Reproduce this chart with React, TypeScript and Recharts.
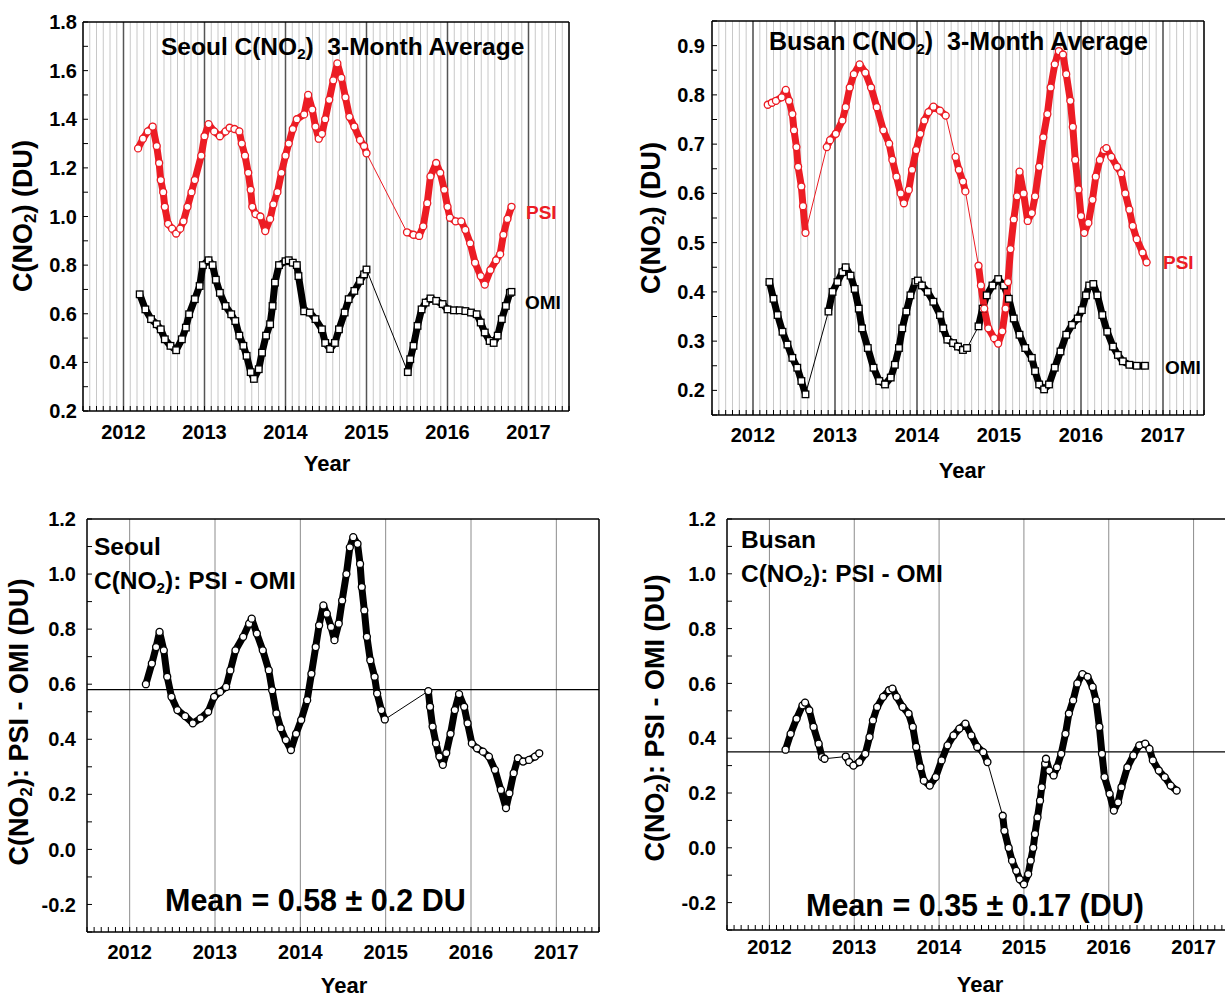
import React from "react";
import { LineChart, Line, XAxis, YAxis, CartesianGrid, ReferenceLine } from "recharts";

const FONT = '"Liberation Sans", Arial, Helvetica, sans-serif';
const RED = "#ec1c24";
const BLACK = "#000";

// ---- axis ticks ----
const yearTicks = [2012, 2013, 2014, 2015, 2016, 2017];
const monthTicks = Array.from({ length: 73 }, (_, i) => 2011.5 + i / 12);
const seoulTicks = [0.2, 0.3, 0.4, 0.5, 0.6, 0.7, 0.8, 0.9, 1.0, 1.1, 1.2, 1.3, 1.4, 1.5, 1.6, 1.7, 1.8];
const seoulLabels = [0.2, 0.4, 0.6, 0.8, 1.0, 1.2, 1.4, 1.6, 1.8];
const busanTicks = [0.15, 0.2, 0.25, 0.3, 0.35, 0.4, 0.45, 0.5, 0.55, 0.6, 0.65, 0.7, 0.75, 0.8, 0.85, 0.9, 0.95];
const busanLabels = [0.2, 0.3, 0.4, 0.5, 0.6, 0.7, 0.8, 0.9];
const diffTicks = [-0.3, -0.2, -0.1, 0.0, 0.1, 0.2, 0.3, 0.4, 0.5, 0.6, 0.7, 0.8, 0.9, 1.0, 1.1, 1.2];
const diffLabels = [-0.2, 0.0, 0.2, 0.4, 0.6, 0.8, 1.0, 1.2];

// ---- Seoul 3-month average ----
const seoulPsiYears = [2012.18, 2012.24, 2012.3, 2012.36, 2012.41, 2012.44, 2012.46, 2012.49, 2012.51, 2012.55, 2012.6, 2012.65, 2012.7, 2012.74, 2012.79, 2012.84, 2012.88, 2012.96, 2013.0, 2013.05, 2013.12, 2013.19, 2013.26, 2013.31, 2013.37, 2013.43, 2013.46, 2013.5, 2013.54, 2013.57, 2013.59, 2013.63, 2013.69, 2013.75, 2013.81, 2013.85, 2013.9, 2013.95, 2014.0, 2014.04, 2014.09, 2014.14, 2014.23, 2014.28, 2014.33, 2014.37, 2014.41, 2014.45, 2014.49, 2014.54, 2014.59, 2014.64, 2014.69, 2014.74, 2014.79, 2014.85, 2014.92, 2014.97, 2015.0, 2015.5, 2015.58, 2015.65, 2015.7, 2015.75, 2015.79, 2015.86, 2015.91, 2015.96, 2016.0, 2016.03, 2016.1, 2016.17, 2016.22, 2016.28, 2016.34, 2016.41, 2016.46, 2016.53, 2016.6, 2016.65, 2016.69, 2016.74, 2016.79];
const seoulPsiValues = [1.28, 1.32, 1.35, 1.37, 1.29, 1.22, 1.15, 1.1, 1.04, 0.97, 0.95, 0.93, 0.95, 0.98, 1.04, 1.1, 1.15, 1.25, 1.33, 1.38, 1.35, 1.33, 1.35, 1.365, 1.36, 1.35, 1.3, 1.25, 1.18, 1.11, 1.04, 1.01, 1.0, 0.94, 0.99, 1.05, 1.1, 1.18, 1.25, 1.3, 1.36, 1.4, 1.42, 1.5, 1.44, 1.37, 1.32, 1.34, 1.4, 1.48, 1.56, 1.63, 1.57, 1.49, 1.41, 1.37, 1.315, 1.29, 1.26, 0.935, 0.925, 0.92, 0.96, 1.055, 1.165, 1.22, 1.18, 1.11, 1.04, 0.995, 0.98, 0.98, 0.945, 0.89, 0.81, 0.755, 0.72, 0.78, 0.82, 0.845, 0.925, 0.99, 1.04];
const seoulOmiYears = [2012.2, 2012.27, 2012.34, 2012.41, 2012.46, 2012.51, 2012.58, 2012.65, 2012.72, 2012.77, 2012.81, 2012.88, 2012.94, 2012.98, 2013.05, 2013.1, 2013.14, 2013.19, 2013.26, 2013.33, 2013.38, 2013.43, 2013.48, 2013.52, 2013.57, 2013.61, 2013.67, 2013.71, 2013.76, 2013.81, 2013.84, 2013.87, 2013.92, 2014.0, 2014.04, 2014.09, 2014.14, 2014.16, 2014.23, 2014.3, 2014.37, 2014.45, 2014.49, 2014.55, 2014.61, 2014.66, 2014.73, 2014.78, 2014.85, 2014.92, 2014.97, 2015.0, 2015.51, 2015.54, 2015.58, 2015.63, 2015.68, 2015.73, 2015.79, 2015.86, 2015.94, 2016.0, 2016.08, 2016.15, 2016.22, 2016.29, 2016.36, 2016.41, 2016.46, 2016.52, 2016.57, 2016.62, 2016.67, 2016.72, 2016.77, 2016.79];
const seoulOmiValues = [0.68, 0.618, 0.578, 0.557, 0.536, 0.495, 0.468, 0.45, 0.495, 0.543, 0.598, 0.66, 0.714, 0.8, 0.82, 0.8, 0.74, 0.686, 0.632, 0.598, 0.57, 0.51, 0.468, 0.427, 0.36, 0.332, 0.372, 0.44, 0.51, 0.557, 0.632, 0.728, 0.8, 0.816, 0.82, 0.81, 0.8, 0.755, 0.61, 0.605, 0.578, 0.536, 0.48, 0.455, 0.48, 0.536, 0.605, 0.66, 0.694, 0.735, 0.762, 0.782, 0.36, 0.413, 0.468, 0.55, 0.618, 0.646, 0.663, 0.653, 0.64, 0.618, 0.614, 0.614, 0.611, 0.605, 0.598, 0.564, 0.523, 0.488, 0.48, 0.51, 0.578, 0.632, 0.686, 0.69];

// ---- Busan 3-month average ----
const busanPsiYears = [2012.18, 2012.23, 2012.28, 2012.35, 2012.4, 2012.44, 2012.48, 2012.5, 2012.53, 2012.55, 2012.59, 2012.61, 2012.64, 2012.9, 2012.94, 2013.01, 2013.09, 2013.13, 2013.18, 2013.23, 2013.3, 2013.37, 2013.44, 2013.51, 2013.59, 2013.66, 2013.7, 2013.75, 2013.8, 2013.84, 2013.9, 2013.94, 2013.99, 2014.04, 2014.09, 2014.14, 2014.2, 2014.28, 2014.35, 2014.47, 2014.51, 2014.56, 2014.59, 2014.75, 2014.78, 2014.82, 2014.87, 2014.94, 2014.99, 2015.04, 2015.08, 2015.11, 2015.14, 2015.18, 2015.22, 2015.25, 2015.3, 2015.35, 2015.4, 2015.44, 2015.49, 2015.54, 2015.59, 2015.63, 2015.68, 2015.73, 2015.78, 2015.82, 2015.87, 2015.9, 2015.93, 2015.97, 2016.0, 2016.04, 2016.09, 2016.14, 2016.18, 2016.23, 2016.28, 2016.31, 2016.37, 2016.44, 2016.49, 2016.54, 2016.59, 2016.63, 2016.68, 2016.75, 2016.8];
const busanPsiValues = [0.78, 0.784, 0.788, 0.795, 0.81, 0.788, 0.761, 0.728, 0.694, 0.654, 0.614, 0.574, 0.52, 0.694, 0.708, 0.721, 0.748, 0.775, 0.815, 0.842, 0.862, 0.845, 0.815, 0.775, 0.728, 0.701, 0.668, 0.634, 0.6, 0.58, 0.607, 0.648, 0.688, 0.721, 0.748, 0.765, 0.776, 0.768, 0.758, 0.674, 0.648, 0.624, 0.604, 0.453, 0.413, 0.366, 0.326, 0.306, 0.295, 0.32, 0.366, 0.42, 0.487, 0.547, 0.594, 0.644, 0.6, 0.544, 0.56, 0.594, 0.654, 0.714, 0.761, 0.815, 0.862, 0.889, 0.882, 0.842, 0.788, 0.735, 0.668, 0.608, 0.554, 0.52, 0.54, 0.587, 0.634, 0.668, 0.688, 0.692, 0.674, 0.654, 0.641, 0.6, 0.567, 0.534, 0.507, 0.48, 0.46];
const busanOmiYears = [2012.2, 2012.25, 2012.3, 2012.36, 2012.42, 2012.48, 2012.54, 2012.59, 2012.64, 2012.92, 2012.97, 2013.03, 2013.09, 2013.13, 2013.19, 2013.24, 2013.29, 2013.33, 2013.4, 2013.47, 2013.54, 2013.61, 2013.68, 2013.73, 2013.78, 2013.82, 2013.87, 2013.92, 2013.98, 2014.01, 2014.06, 2014.13, 2014.2, 2014.28, 2014.32, 2014.37, 2014.44, 2014.5, 2014.56, 2014.61, 2014.75, 2014.8, 2014.85, 2014.92, 2014.99, 2015.06, 2015.12, 2015.18, 2015.25, 2015.32, 2015.4, 2015.44, 2015.49, 2015.55, 2015.61, 2015.68, 2015.75, 2015.82, 2015.89, 2015.96, 2016.01, 2016.06, 2016.1, 2016.15, 2016.2, 2016.26, 2016.32, 2016.39, 2016.45, 2016.51, 2016.59, 2016.68, 2016.78];
const busanOmiValues = [0.42, 0.386, 0.353, 0.319, 0.293, 0.266, 0.246, 0.219, 0.192, 0.36, 0.4, 0.42, 0.44, 0.45, 0.433, 0.406, 0.366, 0.326, 0.286, 0.246, 0.219, 0.212, 0.226, 0.252, 0.286, 0.326, 0.36, 0.393, 0.42, 0.423, 0.413, 0.4, 0.38, 0.353, 0.326, 0.303, 0.296, 0.289, 0.282, 0.286, 0.33, 0.366, 0.393, 0.413, 0.426, 0.413, 0.386, 0.346, 0.313, 0.286, 0.266, 0.239, 0.212, 0.202, 0.212, 0.246, 0.279, 0.313, 0.333, 0.346, 0.363, 0.393, 0.413, 0.416, 0.393, 0.353, 0.319, 0.289, 0.272, 0.259, 0.252, 0.25, 0.25];

// ---- PSI - OMI differences ----
const seoulDiffYears = [2012.19, 2012.26, 2012.31, 2012.35, 2012.4, 2012.44, 2012.49, 2012.56, 2012.65, 2012.74, 2012.83, 2012.92, 2012.99, 2013.06, 2013.13, 2013.18, 2013.24, 2013.33, 2013.4, 2013.43, 2013.49, 2013.56, 2013.63, 2013.67, 2013.72, 2013.77, 2013.83, 2013.89, 2013.95, 2014.01, 2014.08, 2014.13, 2014.18, 2014.22, 2014.27, 2014.31, 2014.36, 2014.4, 2014.45, 2014.49, 2014.54, 2014.58, 2014.62, 2014.67, 2014.7, 2014.72, 2014.75, 2014.78, 2014.82, 2014.87, 2014.9, 2014.95, 2014.99, 2015.5, 2015.52, 2015.55, 2015.59, 2015.63, 2015.67, 2015.71, 2015.76, 2015.81, 2015.86, 2015.92, 2015.96, 2016.01, 2016.07, 2016.14, 2016.21, 2016.28, 2016.35, 2016.41, 2016.45, 2016.5, 2016.55, 2016.61, 2016.68, 2016.75, 2016.8];
const seoulDiffValues = [0.6, 0.675, 0.735, 0.79, 0.723, 0.627, 0.554, 0.506, 0.484, 0.458, 0.476, 0.5, 0.554, 0.572, 0.59, 0.65, 0.723, 0.772, 0.82, 0.838, 0.784, 0.723, 0.651, 0.578, 0.494, 0.44, 0.397, 0.361, 0.42, 0.47, 0.542, 0.638, 0.735, 0.814, 0.886, 0.856, 0.808, 0.76, 0.82, 0.904, 1.0, 1.097, 1.134, 1.11, 1.037, 0.953, 0.868, 0.772, 0.687, 0.627, 0.566, 0.506, 0.472, 0.575, 0.518, 0.446, 0.385, 0.337, 0.307, 0.35, 0.42, 0.506, 0.564, 0.518, 0.458, 0.385, 0.367, 0.355, 0.337, 0.289, 0.216, 0.15, 0.204, 0.277, 0.331, 0.319, 0.325, 0.337, 0.349];
const busanDiffYears = [2012.19, 2012.25, 2012.32, 2012.39, 2012.42, 2012.47, 2012.52, 2012.58, 2012.62, 2012.65, 2012.9, 2012.94, 2012.99, 2013.06, 2013.13, 2013.18, 2013.22, 2013.27, 2013.34, 2013.41, 2013.45, 2013.5, 2013.57, 2013.64, 2013.69, 2013.73, 2013.78, 2013.82, 2013.89, 2013.96, 2014.03, 2014.1, 2014.17, 2014.24, 2014.31, 2014.38, 2014.45, 2014.52, 2014.57, 2014.75, 2014.77, 2014.82, 2014.86, 2014.91, 2014.95, 2015.0, 2015.05, 2015.08, 2015.11, 2015.13, 2015.16, 2015.19, 2015.21, 2015.25, 2015.26, 2015.3, 2015.35, 2015.39, 2015.44, 2015.49, 2015.53, 2015.58, 2015.63, 2015.69, 2015.75, 2015.81, 2015.85, 2015.89, 2015.92, 2015.95, 2016.01, 2016.06, 2016.11, 2016.15, 2016.22, 2016.29, 2016.36, 2016.43, 2016.48, 2016.52, 2016.59, 2016.66, 2016.73, 2016.8];
const busanDiffValues = [0.358, 0.416, 0.471, 0.52, 0.53, 0.502, 0.441, 0.38, 0.331, 0.325, 0.333, 0.313, 0.3, 0.313, 0.343, 0.404, 0.465, 0.514, 0.551, 0.575, 0.581, 0.551, 0.514, 0.49, 0.441, 0.368, 0.294, 0.245, 0.227, 0.258, 0.319, 0.374, 0.41, 0.435, 0.453, 0.41, 0.368, 0.349, 0.313, 0.117, 0.062, 0.0, -0.047, -0.084, -0.115, -0.133, -0.096, -0.047, 0.0, 0.05, 0.111, 0.172, 0.221, 0.307, 0.325, 0.282, 0.264, 0.294, 0.343, 0.416, 0.49, 0.538, 0.6, 0.634, 0.624, 0.587, 0.538, 0.441, 0.343, 0.258, 0.197, 0.136, 0.166, 0.221, 0.294, 0.337, 0.374, 0.38, 0.361, 0.319, 0.282, 0.258, 0.227, 0.209];

const seoulMean = 0.58;
const busanMean = 0.35;

type Pt = { x: number; y: number | null };
type Series = { name: string; data: Pt[]; color: string; shape: "circle" | "square" };

const zip = (xs: number[], ys: number[]): Pt[] => xs.map((x, i) => ({ x, y: ys[i] }));

// break the heavy band wherever the samples are far apart (thin connector only)
const denseRuns = (pts: Pt[], gap = 0.1): Pt[] => {
  const out: Pt[] = [];
  pts.forEach((p, i) => {
    out.push(p);
    const n = pts[i + 1];
    if (n && n.x - p.x > gap) out.push({ x: (p.x + n.x) / 2, y: null });
  });
  return out;
};

const near = (list: number[], v: number) => list.some((l) => Math.abs(l - v) < 1e-6);
const yearFmt = (v: number) => (Math.abs(v - Math.round(v)) < 1e-6 ? String(Math.round(v)) : "");

const makeDot = (color: string, shape: string) => (props: any) => {
  const { cx, cy, index } = props;
  if (cx == null || cy == null) return <g key={`e${index}`} />;
  if (shape === "square")
    return <rect key={`s${index}`} x={cx - 3.3} y={cy - 3.3} width={6.6} height={6.6} fill="#fff" stroke={color} strokeWidth={1.3} />;
  return <circle key={`c${index}`} cx={cx} cy={cy} r={3.5} fill="#fff" stroke={color} strokeWidth={1.3} />;
};

const tickStyle = { fontSize: 20, fontWeight: "bold", fill: "#000", fontFamily: FONT };

type PanelProps = {
  left: number; top: number; width: number; height: number;
  mTop: number; mRight: number; yWidth: number; xHeight: number;
  yDomain: [number, number]; yTicks: number[]; yLabels: number[];
  xTickMargin: number; yTickMargin: number;
  monthGrid: boolean; series: Series[]; mean?: number;
};

function Panel(p: PanelProps) {
  const xDomain: [number, number] = [2011.5, 2017.5];
  return (
    <div style={{ position: "absolute", left: p.left, top: p.top }}>
      <LineChart width={p.width} height={p.height} margin={{ top: p.mTop, right: p.mRight, bottom: 0, left: 0 }}>
        {p.monthGrid && <CartesianGrid horizontal={false} stroke="#c8c8c8" strokeWidth={1} />}
        {yearTicks.map((yr) => (
          <ReferenceLine key={`yr${yr}`} x={yr} stroke={p.monthGrid ? "#555" : "#8c8c8c"} strokeWidth={p.monthGrid ? 1.5 : 1} />
        ))}
        {p.mean !== undefined && <ReferenceLine y={p.mean} stroke="#000" strokeWidth={1.3} />}
        <XAxis
          dataKey="x" type="number" domain={xDomain} allowDataOverflow ticks={monthTicks} interval={0}
          tickSize={-5} tickMargin={p.xTickMargin} tickFormatter={yearFmt} tick={tickStyle}
          axisLine={{ stroke: "#000", strokeWidth: 1.5 }} tickLine={{ stroke: "#000" }} height={p.xHeight}
        />
        <XAxis
          xAxisId="top" orientation="top" dataKey="x" type="number" domain={xDomain} allowDataOverflow
          ticks={monthTicks} interval={0} tickSize={-5} tick={false} height={1}
          axisLine={{ stroke: "#000", strokeWidth: 1.5 }} tickLine={{ stroke: "#000" }}
        />
        <YAxis
          type="number" domain={p.yDomain} allowDataOverflow ticks={p.yTicks} interval={0}
          tickSize={-5} tickMargin={p.yTickMargin} tick={tickStyle}
          tickFormatter={(v: number) => (near(p.yLabels, v) ? v.toFixed(1) : "")}
          axisLine={{ stroke: "#000", strokeWidth: 1.5 }} tickLine={{ stroke: "#000" }} width={p.yWidth}
        />
        <YAxis
          yAxisId="r" orientation="right" type="number" domain={p.yDomain} allowDataOverflow ticks={p.yTicks}
          interval={0} tickSize={-5} tick={false} width={1}
          axisLine={{ stroke: "#000", strokeWidth: 1.5 }} tickLine={{ stroke: "#000" }}
        />
        {p.series.map((s) => [
          <Line key={`${s.name}-band`} data={denseRuns(s.data)} dataKey="y" stroke={s.color} strokeWidth={7}
            strokeLinecap="round" strokeLinejoin="round" dot={false} activeDot={false} connectNulls={false}
            isAnimationActive={false} />,
          <Line key={`${s.name}-pts`} data={s.data} dataKey="y" stroke={s.color} strokeWidth={1}
            dot={makeDot(s.color, s.shape)} activeDot={false} isAnimationActive={false} />,
        ])}
      </LineChart>
    </div>
  );
}

function Sub({ children }: { children: React.ReactNode }) {
  return <span style={{ fontSize: "0.62em", verticalAlign: "-0.28em" }}>{children}</span>;
}

function Txt(props: { x: number; y: number; size: number; color?: string; center?: boolean; rotate?: boolean; children: React.ReactNode }) {
  const tx = props.center || props.rotate ? "-50%" : "0";
  return (
    <div
      style={{
        position: "absolute", left: props.x, top: props.y,
        transform: `translate(${tx}, -50%)${props.rotate ? " rotate(-90deg)" : ""}`,
        fontFamily: FONT, fontWeight: "bold", fontSize: props.size, color: props.color || "#000",
        whiteSpace: "pre", lineHeight: 1,
      }}
    >
      {props.children}
    </div>
  );
}

export default function App() {
  const seoulTop: Series[] = [
    { name: "seoulOmi", data: zip(seoulOmiYears, seoulOmiValues), color: BLACK, shape: "square" },
    { name: "seoulPsi", data: zip(seoulPsiYears, seoulPsiValues), color: RED, shape: "circle" },
  ];
  const busanTop: Series[] = [
    { name: "busanOmi", data: zip(busanOmiYears, busanOmiValues), color: BLACK, shape: "square" },
    { name: "busanPsi", data: zip(busanPsiYears, busanPsiValues), color: RED, shape: "circle" },
  ];
  const seoulDiff: Series[] = [{ name: "seoulDiff", data: zip(seoulDiffYears, seoulDiffValues), color: BLACK, shape: "circle" }];
  const busanDiff: Series[] = [{ name: "busanDiff", data: zip(busanDiffYears, busanDiffValues), color: BLACK, shape: "circle" }];

  return (
    <div style={{ position: "absolute", left: 0, top: 0, width: 1225, height: 1000, overflow: "hidden", background: "#fff" }}>
      <Panel left={0} top={0} width={600} height={480} mTop={21} mRight={30} yWidth={83} xHeight={69}
        yDomain={[0.2, 1.8]} yTicks={seoulTicks} yLabels={seoulLabels} xTickMargin={19} yTickMargin={11}
        monthGrid series={seoulTop} />
      <Panel left={610} top={0} width={615} height={480} mTop={20} mRight={20} yWidth={102} xHeight={65}
        yDomain={[0.15, 0.95]} yTicks={busanTicks} yLabels={busanLabels} xTickMargin={18} yTickMargin={12}
        monthGrid series={busanTop} />
      <Panel left={0} top={500} width={610} height={500} mTop={18} mRight={10} yWidth={87} xHeight={68}
        yDomain={[-0.3, 1.2]} yTicks={diffTicks} yLabels={diffLabels} xTickMargin={18} yTickMargin={16}
        monthGrid={false} series={seoulDiff} mean={seoulMean} />
      <Panel left={610} top={500} width={640} height={500} mTop={18} mRight={13} yWidth={117} xHeight={70}
        yDomain={[-0.3, 1.2]} yTicks={diffTicks} yLabels={diffLabels} xTickMargin={15} yTickMargin={16}
        monthGrid={false} series={busanDiff} mean={busanMean} />

      {/* top-left texts */}
      <Txt x={161} y={48} size={24.5}>Seoul C(NO<Sub>2</Sub>)  3-Month Average</Txt>
      <Txt x={526} y={212} size={19} color={RED}>PSI</Txt>
      <Txt x={525} y={302} size={19}>OMI</Txt>
      <Txt x={25} y={216} size={27} rotate>C(NO<Sub>2</Sub>) (DU)</Txt>
      <Txt x={327} y={464} size={22} center>Year</Txt>

      {/* top-right texts */}
      <Txt x={769} y={43} size={25}>Busan C(NO<Sub>2</Sub>)  3-Month Average</Txt>
      <Txt x={1163} y={262} size={19} color={RED}>PSI</Txt>
      <Txt x={1165} y={367} size={19}>OMI</Txt>
      <Txt x={653} y={218} size={27} rotate>C(NO<Sub>2</Sub>) (DU)</Txt>
      <Txt x={962} y={471} size={22} center>Year</Txt>

      {/* bottom-left texts */}
      <Txt x={94} y={547} size={24.5}>Seoul</Txt>
      <Txt x={94} y={582} size={24.5}>C(NO<Sub>2</Sub>): PSI - OMI</Txt>
      <Txt x={165} y={900} size={30.5}>Mean = 0.58 ± 0.2 DU</Txt>
      <Txt x={21} y={722} size={27} rotate>C(NO<Sub>2</Sub>): PSI - OMI (DU)</Txt>
      <Txt x={344} y={986} size={22} center>Year</Txt>

      {/* bottom-right texts */}
      <Txt x={741} y={540} size={24.5}>Busan</Txt>
      <Txt x={741} y={575} size={24.5}>C(NO<Sub>2</Sub>): PSI - OMI</Txt>
      <Txt x={806} y={905} size={30.5}>Mean = 0.35 ± 0.17 (DU)</Txt>
      <Txt x={657} y={718} size={27} rotate>C(NO<Sub>2</Sub>): PSI - OMI (DU)</Txt>
      <Txt x={980} y={985} size={22} center>Year</Txt>
    </div>
  );
}
